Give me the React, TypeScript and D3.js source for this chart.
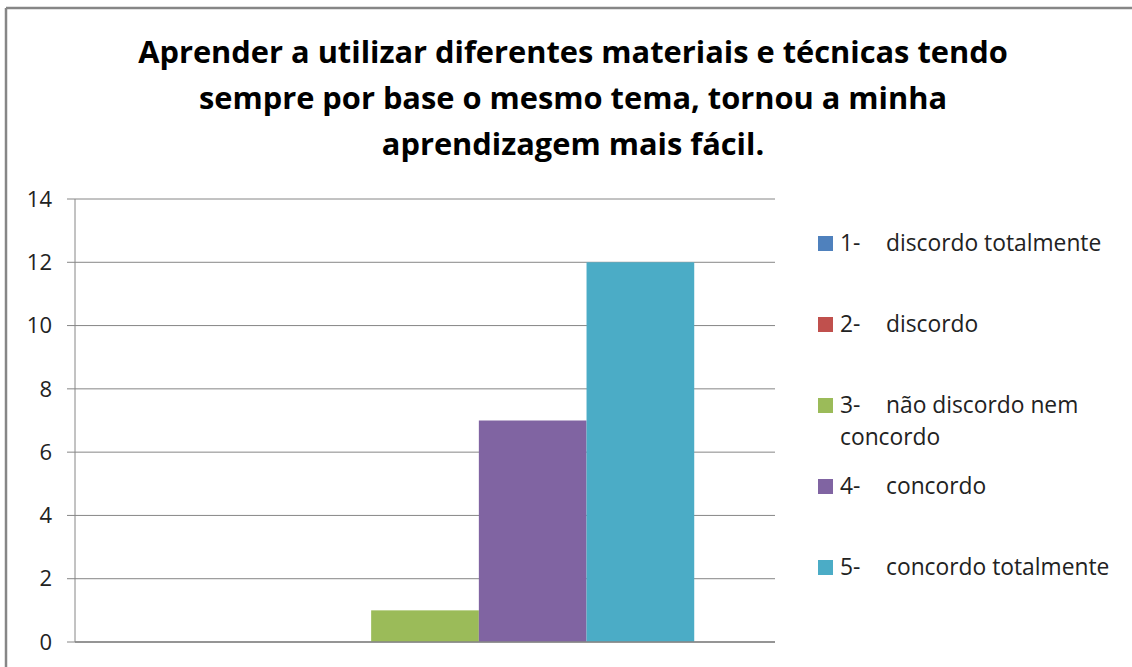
import React from "react";
import * as d3 from "d3";

const categories = ["Q"];
const seriesNames = [
  "1- discordo totalmente",
  "2- discordo",
  "3- não discordo nem concordo",
  "4- concordo",
  "5- concordo totalmente",
];
const legendPrefixes = ["1-", "2-", "3-", "4-", "5-"];
const legendLines = [
  ["discordo totalmente"],
  ["discordo"],
  ["não discordo nem", "concordo"],
  ["concordo"],
  ["concordo totalmente"],
];
const seriesValues = [0, 0, 1, 7, 12];
const seriesColors = ["#4F81BD", "#C0504D", "#9BBB59", "#8064A2", "#4BACC6"];
const yTicks = [0, 2, 4, 6, 8, 10, 12, 14];
const titleLines = [
  "Aprender a utilizar diferentes materiais e técnicas tendo",
  "sempre por base o mesmo tema, tornou a minha",
  "aprendizagem mais fácil.",
];

const W = 1132;
const H = 667;
const plot = { left: 75, right: 775, top: 199, bottom: 642 };
const FONT = "'Open Sans', Lato, sans-serif";

export default function App() {
  const y = d3.scaleLinear().domain([0, 14]).range([plot.bottom, plot.top]);
  const x0 = d3
    .scaleBand()
    .domain(categories)
    .range([plot.left, plot.right])
    .paddingInner(0)
    .paddingOuter(0);
  // Excel gap width 150%: bar group occupies 5/6.5 of category
  const catW = x0.bandwidth();
  const barW = catW / (seriesValues.length + 1.5);
  const x1 = d3
    .scaleBand()
    .domain(seriesNames)
    .range([0, barW * seriesValues.length]);
  const groupStart = (x0(categories[0]) as number) + barW * 0.75;

  return (
    <svg
      width={W}
      height={H}
      style={{ position: "absolute", left: 0, top: 0, background: "#fff" }}
      fontFamily={FONT}
    >
      <rect x={0} y={0} width={W} height={H} fill="#fff" />
      {/* frame */}
      <line x1={6} y1={8} x2={W} y2={8} stroke="#868686" strokeWidth={2.5} />
      <line x1={6} y1={8} x2={6} y2={H} stroke="#868686" strokeWidth={2.5} />

      {/* title */}
      {titleLines.map((t, i) => (
        <text
          key={i}
          x={573}
          y={63 + i * 46}
          textAnchor="middle"
          fontSize={30.8}
          fontWeight="bold"
          fill="#000"
        >
          {t}
        </text>
      ))}

      {/* gridlines & ticks */}
      {yTicks.map((t) => (
        <g key={t}>
          <line
            x1={plot.left - 8}
            x2={plot.right}
            y1={y(t)}
            y2={y(t)}
            stroke="#868686"
            strokeWidth={1}
          />
          <text
            x={52}
            y={y(t)}
            dy="0.35em"
            textAnchor="end"
            fontSize={22}
            fill="#222"
          >
            {t}
          </text>
        </g>
      ))}
      <line
        x1={plot.left}
        x2={plot.left}
        y1={plot.top}
        y2={plot.bottom}
        stroke="#868686"
        strokeWidth={1}
      />

      {/* bars */}
      {seriesValues.map((v, i) => (
        <rect
          key={i}
          x={groupStart + (x1(seriesNames[i]) as number)}
          y={y(v)}
          width={x1.bandwidth()}
          height={plot.bottom - y(v)}
          fill={seriesColors[i]}
        />
      ))}
      <line
        x1={plot.left}
        x2={plot.right}
        y1={plot.bottom}
        y2={plot.bottom}
        stroke="#868686"
        strokeWidth={1.5}
      />

      {/* legend */}
      {seriesValues.map((_, i) => {
        const cy = 243 + i * 81;
        return (
          <g key={i}>
            <rect x={818} y={cy - 7} width={15} height={15} fill={seriesColors[i]} />
            <text x={840} y={cy} dy="0.35em" fontSize={22.8} fill="#222">
              {legendPrefixes[i]}
            </text>
            {legendLines[i].map((ln, j) => (
              <text
                key={j}
                x={j === 0 ? 886 : 840}
                y={cy + j * 32}
                dy="0.35em"
                fontSize={22.8}
                fill="#222"
              >
                {ln}
              </text>
            ))}
          </g>
        );
      })}
    </svg>
  );
}
